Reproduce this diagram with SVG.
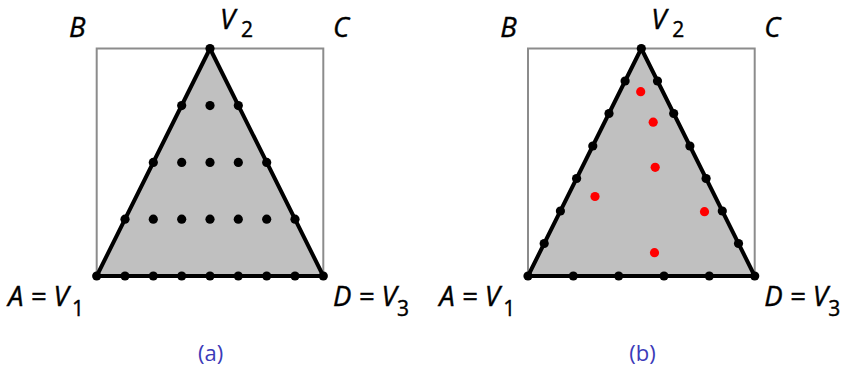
<svg xmlns="http://www.w3.org/2000/svg" width="843" height="367" viewBox="0 0 843 367">
<style>
.frame{fill:none;stroke:#8c8c8c;stroke-width:2}
.tri{fill:#c0c0c0;stroke:#000;stroke-width:4;stroke-linejoin:round}
.d{fill:#000}
.r{fill:#ff0000}
.lbl{font-family:"Open Sans","DejaVu Sans",sans-serif;font-style:italic;font-size:27.5px;fill:#000;stroke:#000;stroke-width:0.4}
.sub{font-style:normal;font-size:21px}
.cap{font-family:"Open Sans","DejaVu Sans",sans-serif;font-size:22px;fill:#3b3bb9;text-anchor:middle}
</style>
<defs>
<circle id="dot" r="4.6"/>
</defs>
<g id="panel-a">
<rect class="frame" x="96.7" y="48.5" width="226.6" height="227.5"/>
<polygon class="tri" points="96.7,276 210,48.5 323.3,276"/>
<g id="dots-a" class="d">
<use href="#dot" x="96.7" y="276"/><use href="#dot" x="125" y="276"/><use href="#dot" x="153.3" y="276"/><use href="#dot" x="181.7" y="276"/><use href="#dot" x="210" y="276"/><use href="#dot" x="238.3" y="276"/><use href="#dot" x="266.7" y="276"/><use href="#dot" x="295" y="276"/><use href="#dot" x="323.3" y="276"/>
<use href="#dot" x="125" y="219.2"/><use href="#dot" x="153.3" y="219.2"/><use href="#dot" x="181.7" y="219.2"/><use href="#dot" x="210" y="219.2"/><use href="#dot" x="238.3" y="219.2"/><use href="#dot" x="266.7" y="219.2"/><use href="#dot" x="295" y="219.2"/>
<use href="#dot" x="153.3" y="162.4"/><use href="#dot" x="181.7" y="162.4"/><use href="#dot" x="210" y="162.4"/><use href="#dot" x="238.3" y="162.4"/><use href="#dot" x="266.7" y="162.4"/>
<use href="#dot" x="181.7" y="105.6"/><use href="#dot" x="210" y="105.6"/><use href="#dot" x="238.3" y="105.6"/>
<use href="#dot" x="210" y="48.5"/>
</g>
<text class="lbl" x="69" y="37">B</text>
<text class="lbl" x="333" y="37">C</text>
<text class="lbl" x="220" y="28.5">V<tspan class="sub" x="241" dy="8.3">2</tspan></text>
<text class="lbl" x="8" y="306">A = V<tspan class="sub" x="72" dy="10">1</tspan></text>
<text class="lbl" x="333" y="306">D = V<tspan class="sub" x="397" dy="10">3</tspan></text>
<text class="cap" x="210.7" y="361">(a)</text>
</g>
<g id="panel-b">
<rect class="frame" x="528" y="48.5" width="226.7" height="227.5"/>
<polygon class="tri" points="528,276 641.3,48.5 754.7,276"/>
<g id="dots-b" class="d">
<use href="#dot" x="528" y="276"/><use href="#dot" x="573.3" y="276"/><use href="#dot" x="618.7" y="276"/><use href="#dot" x="664" y="276"/><use href="#dot" x="709.3" y="276"/><use href="#dot" x="754.7" y="276"/>
<use href="#dot" x="544.2" y="243.5"/><use href="#dot" x="560.4" y="211"/><use href="#dot" x="576.6" y="178.5"/><use href="#dot" x="592.8" y="146"/><use href="#dot" x="609" y="113.5"/><use href="#dot" x="625.1" y="81"/>
<use href="#dot" x="738.5" y="243.5"/><use href="#dot" x="722.3" y="211"/><use href="#dot" x="706.1" y="178.5"/><use href="#dot" x="689.9" y="146"/><use href="#dot" x="673.7" y="113.5"/><use href="#dot" x="657.5" y="81"/>
<use href="#dot" x="641.3" y="48.5"/>
</g>
<g id="red-b" class="r">
<use href="#dot" x="640.7" y="91.7"/><use href="#dot" x="653.2" y="122.2"/><use href="#dot" x="655.2" y="167.3"/><use href="#dot" x="595" y="196.5"/><use href="#dot" x="704.5" y="211.7"/><use href="#dot" x="654.5" y="252.7"/>
</g>
<text class="lbl" x="500.3" y="37">B</text>
<text class="lbl" x="764.3" y="37">C</text>
<text class="lbl" x="651.3" y="28.5">V<tspan class="sub" x="672.3" dy="8.3">2</tspan></text>
<text class="lbl" x="439.3" y="306">A = V<tspan class="sub" x="503.3" dy="10">1</tspan></text>
<text class="lbl" x="764.3" y="306">D = V<tspan class="sub" x="828.3" dy="10">3</tspan></text>
<text class="cap" x="642.5" y="361">(b)</text>
</g>
</svg>
